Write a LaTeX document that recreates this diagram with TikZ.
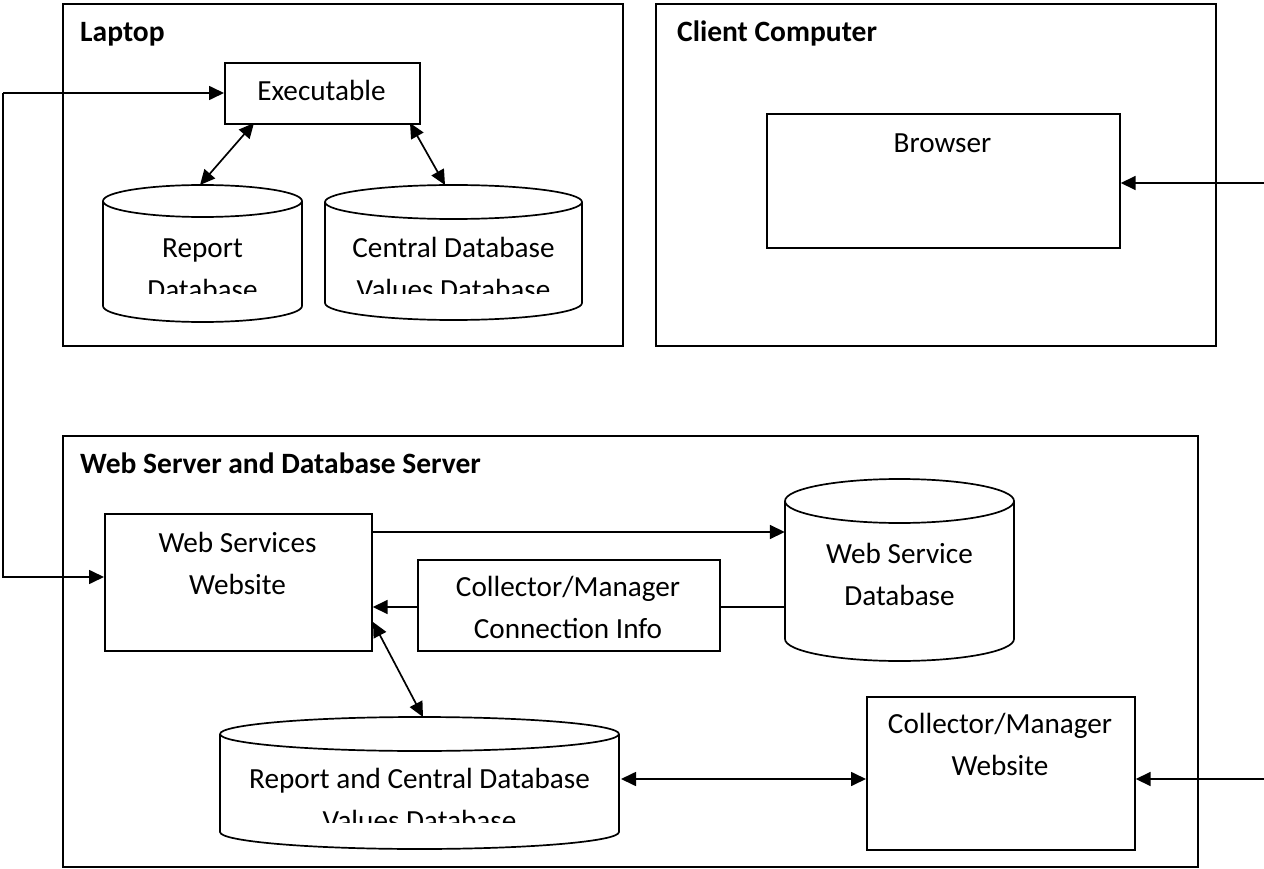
\documentclass[tikz,border=0pt]{standalone}
\usepackage{fontspec}
\setmainfont{Carlito}
\usetikzlibrary{arrows.meta}

% Database cylinder: #1 name, #2 left x, #3 right x, #4 top y, #5 bottom y, #6 ellipse half-height
\newcommand\dbcylinder[6]{%
  \pgfmathsetmacro\cylcx{(#2+#3)/2}%
  \pgfmathsetmacro\cylrx{(#3-#2)/2}%
  \pgfmathsetmacro\cylcy{(#4+#5)/2}%
  \pgfmathsetmacro\cylw{#3-#2}%
  \pgfmathsetmacro\cylh{#5-#4}%
  \node[inner sep=0pt, minimum width=\cylw pt, minimum height=\cylh pt] (#1) at (\cylcx,\cylcy) {};
  \draw[shape line] (#2,#4+#6) -- (#2,#5-#6)
    arc[start angle=180, end angle=360, x radius=\cylrx pt, y radius=#6 pt]
    -- (#3,#4+#6);
  \draw[shape line] (\cylcx,#4+#6) ellipse [x radius=\cylrx pt, y radius=#6 pt];
}

\tikzset{
  shape line/.style={line width=1.7pt, line join=round},
  frame/.style={draw, line width=1.7pt, inner sep=0pt, anchor=north west},
  title/.style={font=\fontsize{29.5}{36}\selectfont\bfseries, anchor=base west, inner sep=0pt},
  body/.style={font=\fontsize{29.2}{41.5}\selectfont, align=center, inner sep=0pt},
  conn/.style={line width=1.7pt},
  tip/.tip={Triangle[length=15pt, width=14pt]},
}

\begin{document}
\begin{tikzpicture}[x=1pt, y=-1pt]
\useasboundingbox (0,0) rectangle (1264,869);

% ---- Laptop ----
\node[frame, minimum width=560pt, minimum height=342pt] (laptop) at (62,3) {};
\node[title] (laptopT) at (80,42) {Laptop};
\node[frame, minimum width=195pt, minimum height=61pt] (exe) at (224,62) {};
\node[body, anchor=base] (exeT) at (321.5,101) {Executable};

\dbcylinder{repdb}{103}{302}{185}{322}{16}
\begin{scope}
  \clip (103,200) rectangle (302,293);
  \node[body, anchor=base] (repdbT) at (202.5,299) {Report\\Database};
\end{scope}

\dbcylinder{cendb}{325}{582}{185}{320}{17}
\begin{scope}
  \clip (325,200) rectangle (582,293);
  \node[body, anchor=base] (cendbT) at (453.5,299) {Central Database\\Values Database};
\end{scope}

\coordinate (exeA) at (254,123);
\coordinate (exeB) at (410,123);
\coordinate (repTop) at (200,185);
\coordinate (cenTop) at (445,185);
\draw[conn, tip-tip] (exeA) -- (repTop);
\draw[conn, tip-tip] (exeB) -- (cenTop);

% ---- Client Computer ----
\node[frame, minimum width=560pt, minimum height=342pt] (client) at (655,3) {};
\node[title] (clientT) at (677,42) {Client Computer};
\node[frame, minimum width=353pt, minimum height=134pt] (browser) at (766,113) {};
\node[body, anchor=base] (browserT) at (942.5,153) {Browser};

\coordinate (browserIn) at (1264,183);
\draw[conn, -tip] (browserIn) -- (browser.east |- browserIn);

% ---- Web Server and Database Server ----
\node[frame, minimum width=1135pt, minimum height=431pt] (server) at (62,435) {};
\node[title] (serverT) at (80,473) {Web Server and Database Server};

\node[frame, minimum width=267pt, minimum height=137pt] (wsw) at (104,513) {};
\node[body, anchor=base] (wswT) at (237.5,594) {Web Services\\Website};

\node[frame, minimum width=302pt, minimum height=91pt] (cmci) at (417,559) {};
\node[body, anchor=base] (cmciT) at (568,638) {Collector/Manager\\Connection Info};

\dbcylinder{wsdb}{785}{1014}{479}{661}{22}
\node[body, anchor=base] (wsdbT) at (899.5,605) {Web Service\\Database};

\dbcylinder{rcdb}{220}{619}{717}{849}{17}
\begin{scope}
  \clip (220,730) rectangle (619,822);
  \node[body, anchor=base] (rcdbT) at (419.5,830) {Report and Central Database\\Values Database};
\end{scope}

\node[frame, minimum width=268pt, minimum height=153pt] (cmw) at (866,696) {};
\node[body, anchor=base] (cmwT) at (1000,775) {Collector/Manager\\Website};

% connectors
\coordinate (wswOut) at (371,532);
\draw[conn, -tip] (wswOut) -- (wsdb.west |- wswOut);
\coordinate (wsdbOut) at (785,607);
\draw[conn] (wsdbOut) -- (cmci.east |- wsdbOut);
\draw[conn, -tip] (cmci.west |- wsdbOut) -- (wsw.east |- wsdbOut);
\coordinate (wswLow) at (373,622);
\coordinate (rcTop) at (423,717);
\draw[conn, tip-tip] (wswLow) -- (rcTop);
\coordinate (rcRight) at (621,779);
\draw[conn, tip-tip] (rcRight) -- (cmw.west |- rcRight);
\coordinate (cmwIn) at (1264,779);
\draw[conn, -tip] (cmwIn) -- (cmw.east |- cmwIn);

% laptop-to-server link on the left
\coordinate (linkTop) at (3,93);
\coordinate (linkBot) at (3,577);
\draw[conn, -tip] (linkTop) -- (exe.west |- linkTop);
\draw[conn, -tip] (linkTop) -- (linkBot) -- (wsw.west |- linkBot);
\end{tikzpicture}
\end{document}
